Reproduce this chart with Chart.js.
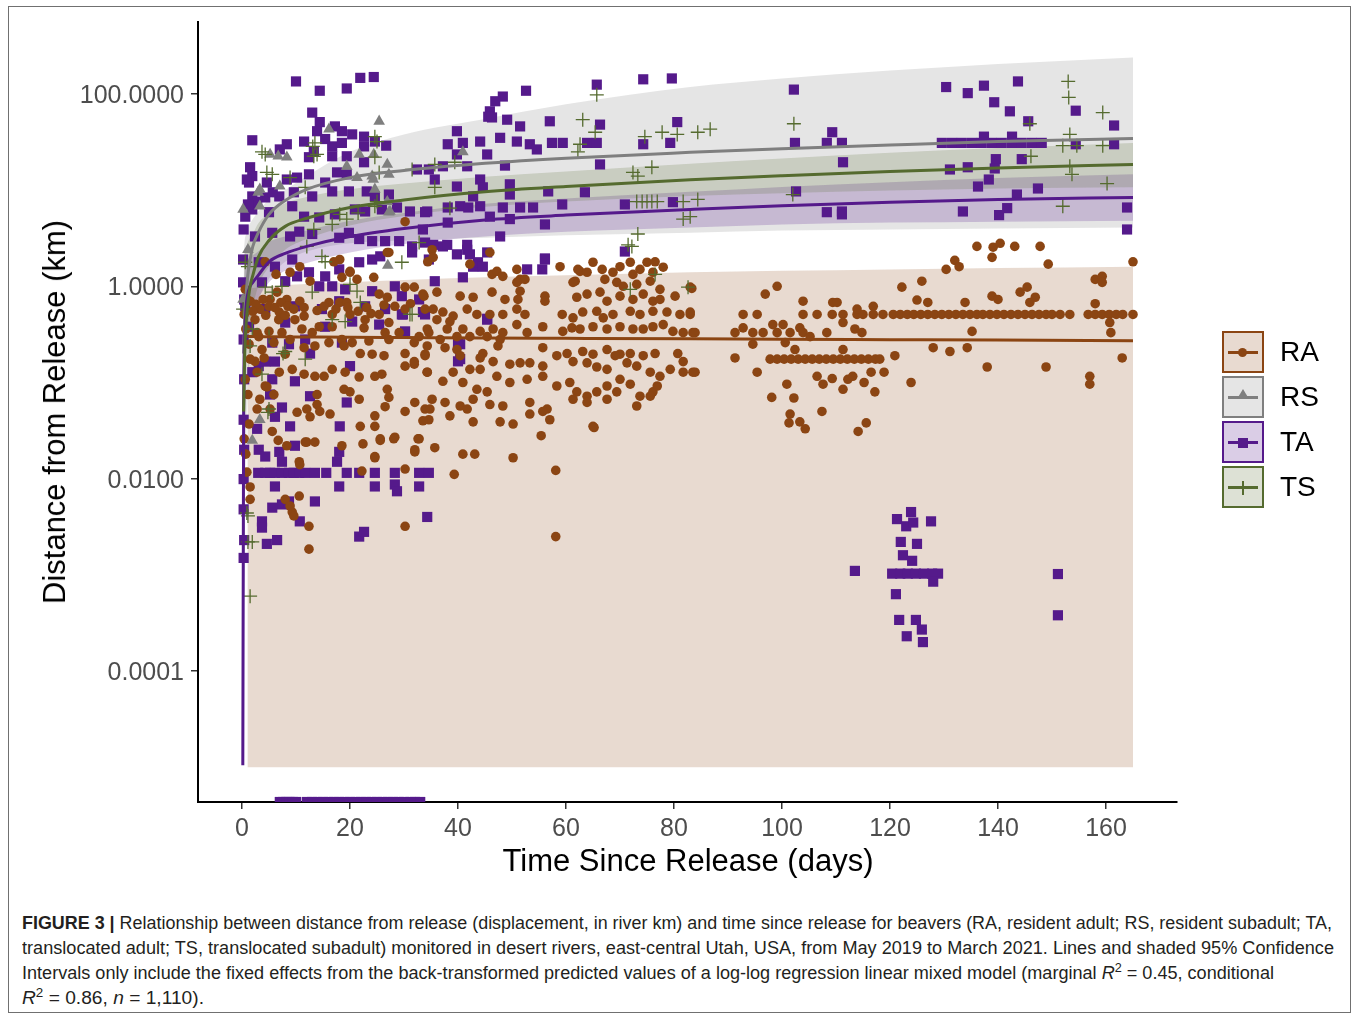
<!DOCTYPE html>
<html lang="en">
<head>
<meta charset="UTF-8">
<title>Distance from release vs time since release</title>
<script src="https://cdn.jsdelivr.net/npm/chart.js@4.4.1/dist/chart.umd.min.js"></script>
<style>
    body { margin: 0; background: #fff; font-family: "Liberation Sans", Arial, sans-serif; }
    #page { position: relative; width: 1357px; height: 1017px; overflow: hidden; }
    #frame { position: absolute; left: 8px; top: 6px; width: 1343px; height: 1007px; border: 1px solid #707070; box-sizing: border-box; }
    #chart { position: absolute; left: 0; top: 0; }
    .axis-title { position: absolute; font-size: 31px; color: #000; white-space: nowrap; transform: translate(-50%, -50%); }
    #ytitle { left: 55px; top: 412px; transform: translate(-50%, -50%) rotate(-90deg); }
    #xtitle { left: 688px; top: 861px; }
    .key { position: absolute; left: 1222px; width: 42px; height: 42px; box-sizing: border-box; border: 2px solid; }
    .key .ln { position: absolute; left: 4px; right: 4px; top: 18px; height: 3px; }
    .key .mk { position: absolute; }
    .key-label { position: absolute; left: 1280px; font-size: 28px; line-height: 42px; color: #000; }
    #caption { position: absolute; left: 22px; top: 911px; font-family: "Liberation Sans", Arial, sans-serif;
               font-size: 17.5px; line-height: 25px; color: #231f20; }
    #caption div { white-space: nowrap; width: max-content; transform-origin: 0 0; }
    #caption sup { font-size: 70%; line-height: 0; }
</style>
</head>
<body>
<div id="page">
    <div id="frame"></div>
    <canvas id="chart" width="1357" height="890"></canvas>
    <div class="axis-title" id="ytitle">Distance from Release (km)</div>
    <div class="axis-title" id="xtitle">Time Since Release (days)</div>

    <div class="key" style="top:331px; border-color:#8B4513; background:rgba(139,69,19,0.2)">
        <div class="ln" style="background:#8B4513"></div>
        <div class="mk" style="left:14px; top:15px; width:9px; height:9px; border-radius:50%; background:#8B4513"></div>
    </div>
    <div class="key-label" style="top:331px">RA</div>
    <div class="key" style="top:376px; border-color:#7f7f7f; background:rgba(127,127,127,0.2)">
        <div class="ln" style="background:#7f7f7f"></div>
        <div class="mk" style="left:13px; top:11px; width:0; height:0; border-left:6px solid transparent; border-right:6px solid transparent; border-bottom:10px solid #7f7f7f"></div>
    </div>
    <div class="key-label" style="top:376px">RS</div>
    <div class="key" style="top:421px; border-color:#551A8B; background:rgba(85,26,139,0.22)">
        <div class="ln" style="background:#551A8B"></div>
        <div class="mk" style="left:14px; top:15px; width:10px; height:10px; background:#551A8B"></div>
    </div>
    <div class="key-label" style="top:421px">TA</div>
    <div class="key" style="top:466px; border-color:#556B2F; background:rgba(85,107,47,0.2)">
        <div class="ln" style="background:#556B2F"></div>
        <div class="mk" style="left:18px; top:13px; width:1.5px; height:14px; background:#556B2F"></div>
    </div>
    <div class="key-label" style="top:466px">TS</div>

    <div id="caption">
        <div data-w="1310"><b>FIGURE 3 |</b> Relationship between distance from release (displacement, in river km) and time since release for beavers (RA, resident adult; RS, resident subadult; TA,</div>
        <div data-w="1312">translocated adult; TS, translocated subadult) monitored in desert rivers, east-central Utah, USA, from May 2019 to March 2021. Lines and shaded 95% Confidence</div>
        <div data-w="1252">Intervals only include the fixed effects from the back-transformed predicted values of a log-log regression linear mixed model (marginal <i>R</i><sup>2</sup> = 0.45, conditional</div>
        <div data-w="182"><i>R</i><sup>2</sup> = 0.86, <i>n</i> = 1,110).</div>
    </div>
</div>

<script>
    // axes
    var xTicks = [0, 20, 40, 60, 80, 100, 120, 140, 160];
    var yTicks = [0.0001, 0.01, 1, 100];
    var xMin = -8.15, xMax = 173.15;
    var zeroKm = 4.35e-6;   // fixes with zero displacement sit on the axis floor
    var yMax = 560;

    // observations [days, km]
    var raPoints = [
        [30.2,4.7],[27.2,2.25],[18.1,1.9],[17.0,1.8],[8.9,1.4],[10.7,1.6],[12.6,1.13],[20,1.43],[21.3,1.18],[24.4,1.24],
        [6.5,0.87],[8.3,0.73],[10.7,0.7],[16.1,0.68],[18.1,0.68],[19.4,0.68],[23.1,0.6],[25.4,0.83],[26.9,0.77],[30.2,0.98],
        [31.9,0.98],[33.7,0.79],[30.2,0.58],[33.9,0.58],[6.9,0.54],[9.8,0.45],[11.5,0.49],[16.7,0.51],[20,0.51],[22.8,0.45],
        [25.4,0.51],[27.2,0.42],[5.0,0.34],[7.4,0.33],[11.1,0.36],[13,0.33],[14.3,0.38],[16.7,0.38],[22.6,0.37],[26.5,0.33],
        [29.1,0.33],[32.8,0.3],[3.1,0.3],[5.9,0.26],[8.9,0.28],[18.5,0.28],[20.4,0.26],[23.5,0.27],[27.2,0.28],[31.9,0.26],[34.6,0.33],
        [11.5,0.23],[13.5,0.24],[16.1,0.26],[18.9,0.24],[21.9,0.2],[24.1,0.197],[26.3,0.19],[30.2,0.2],[31.9,0.165],[33.9,0.197],
        [6.9,0.128],[9.3,0.137],[11.5,0.122],[13.5,0.116],[15.2,0.116],[16.7,0.137],[19.1,0.128],[21.7,0.114],[24.6,0.116],[25.9,0.122],
        [30.2,0.148],[31.9,0.155],[34.3,0.128],[4.3,0.092],[5.9,0.075],[13.9,0.075],[13.9,0.059],[18.9,0.085],[20,0.08],[26.9,0.085],
        [27.2,0.07],[21.7,0.067],[2.8,0.053],[10.2,0.049],[12,0.053],[12.6,0.044],[14.4,0.05],[16.3,0.047],[24.6,0.045],[26.5,0.056],
        [30.2,0.05],[32,0.062],[33.9,0.053],[34.6,0.041],[5.6,0.031],[12,0.024],[13.5,0.024],[18.5,0.022],[21.9,0.035],[24.6,0.035],
        [25.6,0.026],[28.3,0.027],[32.8,0.026],[32,0.02],[24.6,0.017],[10.6,0.015],[22.2,0.012],[30.2,0.0126],[8,0.0061],[10.6,0.0066],
        [9.3,0.0045],[9.6,0.0041],[12.4,0.0032],[30.2,0.0032],[12.4,0.00185],[2.4,0.166],[4.1,0.18],[4.6,0.09],[1.3,0.037],
        [35.2,2.4],[34.4,1.8],[45.9,2.25],[42.2,1.7],[46.3,1.33],[47.2,1.43],[50.9,1.5],[51.5,1.18],[58.9,1.6],[65,1.78],
        [62.6,1.43],[61.7,1.13],[63.9,1.4],[66.7,1.5],[68.7,1.4],[70,1.6],[71.9,1.78],[73.7,1.5],[75,1.78],[76.5,1.8],
        [78,1.58],[76.1,1.4],[72.4,1.33],[67.2,1.18],[69.4,1.1],[70.6,1.0],[73.1,1.05],[75.6,1.13],[77.4,0.93],[83,0.98],
        [80.2,0.79],[33.5,0.83],[36.1,0.87],[40.4,0.79],[42.8,0.77],[46.3,0.87],[48.7,0.73],[51.5,0.89],[51.1,0.73],[56.1,0.79],
        [56.1,0.7],[61.3,1.1],[62,0.77],[63.9,0.83],[66.3,0.87],[67.6,0.7],[70,0.79],[72.4,0.73],[74.3,0.83],[76.1,0.7],[77.4,0.73],
        [35.4,0.58],[37.2,0.54],[39.1,0.49],[41.7,0.58],[43.5,0.51],[45.9,0.51],[48.3,0.51],[50.9,0.58],[52.4,0.51],[59.3,0.51],
        [61.3,0.47],[63.1,0.54],[65.7,0.55],[66.9,0.47],[68.7,0.51],[71.9,0.55],[73.7,0.51],[76.1,0.55],[78.7,0.54],[81.1,0.51],[83,0.51],
        [36.1,0.45],[38.5,0.43],[34.3,0.36],[38,0.36],[40.9,0.36],[44.1,0.34],[46.5,0.36],[48.3,0.33],[50.9,0.4],[52.8,0.33],
        [55.7,0.38],[59.4,0.34],[61.1,0.37],[62.6,0.36],[65,0.38],[67.6,0.36],[70,0.38],[72.4,0.36],[74.3,0.36],[76.1,0.38],
        [78,0.4],[79.8,0.34],[81.7,0.33],[83.5,0.33],[36.7,0.28],[39.8,0.3],[42.2,0.3],[45.4,0.3],[47.8,0.28],[34.3,0.24],
        [37.6,0.23],[39.8,0.22],[44.6,0.2],[47.4,0.24],[55.7,0.23],[58.3,0.19],[60.2,0.2],[63.1,0.21],[65,0.197],[67.6,0.22],
        [70,0.197],[71.9,0.2],[74.3,0.19],[76.5,0.2],[80.7,0.2],[33.9,0.19],[40.4,0.19],[44.1,0.18],[46.5,0.165],[49.6,0.155],
        [51.5,0.16],[53.3,0.16],[55.7,0.148],[61.3,0.165],[63.9,0.16],[65.7,0.145],[67.6,0.137],[69.1,0.19],[71.3,0.16],[73.1,0.148],
        [75.6,0.128],[77.4,0.116],[79.3,0.137],[81.7,0.165],[81.7,0.128],[83.5,0.128],[39.1,0.128],[42.2,0.137],[44.1,0.137],[47.2,0.116],
        [49.6,0.1],[52.8,0.108],[55.7,0.116],[58.3,0.092],[60.7,0.1],[62,0.08],[63.9,0.072],[65.7,0.08],[67.6,0.092],[70,0.108],
        [71.9,0.096],[73.7,0.072],[76.1,0.08],[76.9,0.092],[34.3,0.128],[37.2,0.103],[40.9,0.1],[43.5,0.085],[45.4,0.08],[35.2,0.067],
        [37.6,0.062],[40.4,0.057],[42.8,0.067],[45.9,0.059],[48.3,0.057],[53.3,0.062],[56.5,0.053],[61.3,0.067],[63.9,0.062],[67.6,0.067],
        [69.4,0.08],[73.1,0.057],[75.6,0.072],[34.8,0.053],[38.5,0.045],[41.7,0.053],[42.8,0.039],[47.8,0.039],[50.2,0.037],[53.3,0.047],
        [55.7,0.05],[57,0.041],[65,0.035],[33.5,0.04],
        [2.8,0.33],[1.5,0.175],[2.8,0.128],[3.3,0.067],[5.2,0.053],[6.7,0.025],[8.3,0.022],[10.7,0.014],[1.5,0.0061],[8.9,0.0052],
        [1.5,0.0082],[0.9,0.0117],[39.3,0.0111],[58.1,0.0122],[58.1,0.0025],[65.2,0.034],[55.4,0.028],[50.2,0.0165],[43.1,0.018],[40.9,0.018],
        [35.7,0.021],[32.6,0.026],[28.1,0.026],[25.6,0.025],[22.4,0.023],[11.7,0.024],[32,0.019],[24.6,0.0165],
        [0.6,0.93],[0.9,0.73],[0.4,0.51],[0.7,0.36],[1.3,0.25],[0.6,0.108],[1.1,0.075],[0.4,0.026],[0.7,0.018],
        [4.3,1.8],[6.3,1.33],[5.2,0.73],[3.3,0.58],[2.4,0.45],[3.7,0.22],[8,0.197],
        [35.4,2.0],[62.2,1.5],[26.9,2.25],[20,1.4],[18.5,1.24],[52.4,1.18],[48.3,1.27],[50.9,1.1],
        [1.5,0.7],[2.6,0.65],[3.9,0.73],[5,0.62],[6.1,0.6],[7.2,0.68],[8.5,0.62],[9.6,0.58],[2,0.55],[4.4,0.5],[6.8,0.45],[8,0.5],
        [11.5,0.6],[13.9,0.56],[15.2,0.62],[17.4,0.58],[19.6,0.6],[21.5,0.55],[23.9,0.52],[28.3,0.62],[31.2,0.66],[26.3,0.64],
        [136.1,2.6],[139.1,2.55],[140.4,2.8],[143.1,2.6],[147.8,2.6],[138.9,2.0],[149.3,1.7],[132,1.86],[132.8,1.6],[130.4,1.5],
        [165,1.8],[122.2,0.98],[125.9,1.13],[125,0.72],[127,0.68],[133.9,0.68],[138.9,0.79],[140,0.73],[144.1,0.87],[145.4,0.98],
        [146.9,0.77],[145.9,0.68],[158,1.18],[159.3,1.27],[159.3,1.1],[158,0.66],[96.9,0.83],[99.1,1.0],[103.9,0.7],[109.4,0.68],
        [110.2,0.68],[116.9,0.62],[83.3,0.95],[83,0.54],
        [92.8,0.51],[95.4,0.51],[103.9,0.51],[106.5,0.51],[109.3,0.51],[111.3,0.51],[113.9,0.51],[115,0.51],[116.9,0.51],[118.7,0.51],
        [120.6,0.51],[121.9,0.51],[123.2,0.51],[124.4,0.51],[125.7,0.51],[127,0.51],[128.3,0.51],[129.6,0.51],[130.9,0.51],[132.2,0.51],
        [133.5,0.51],[134.8,0.51],[136.1,0.51],[137.2,0.51],[138.5,0.51],[139.8,0.51],[141.1,0.51],[142.4,0.51],[143.7,0.51],[145,0.51],
        [146.3,0.51],[147.6,0.51],[148.9,0.51],[150,0.51],[151.5,0.51],[153.3,0.51],[156.7,0.51],[158,0.51],[159.3,0.51],[160.6,0.51],
        [161.9,0.51],[163.1,0.51],[165,0.51],
        [83.9,0.33],[91.3,0.33],[92.8,0.37],[94.6,0.33],[96.5,0.33],[98.3,0.4],[99.1,0.33],[100.2,0.4],[101.5,0.33],[103.3,0.37],
        [103.9,0.33],[105.2,0.3],[108.3,0.33],[111.3,0.42],[113.9,0.58],[114.8,0.33],[113.5,0.36],
        [91.3,0.18],[94.6,0.25],[100.6,0.26],[102.4,0.22],[111.3,0.22],[83.9,0.128],[95.4,0.128],[120.9,0.19],[128,0.23],[131.1,0.21],
        [134.3,0.23],[135.2,0.34],[138,0.145],[148.9,0.145],[157,0.116],[157,0.096],[160.7,0.42],[160.9,0.33],[163,0.18],
        [97.8,0.175],[99.1,0.175],[100.4,0.175],[101.7,0.175],[103,0.175],[104.3,0.175],[105.6,0.175],[106.9,0.175],[108.2,0.175],
        [109.5,0.175],[110.8,0.175],[112.1,0.175],[113.4,0.175],[114.7,0.175],[116,0.175],[117.3,0.175],[118.1,0.175],
        [100.9,0.096],[98.1,0.07],[102.2,0.069],[101.5,0.047],[101.3,0.038],[103.3,0.039],[104.3,0.033],[107.4,0.05],[106.5,0.116],
        [107.6,0.096],[109.3,0.11],[111.3,0.085],[112.2,0.108],[113.1,0.116],[115.2,0.1],[116.5,0.128],[117.2,0.08],[118.9,0.128],
        [123.9,0.1],[114.1,0.031],[115.6,0.038]
    ];

    var rsPoints = [
        [25.4,52],[8.3,22],[16.1,43],[21.7,23.5],[24.4,23.5],[26.9,18.5],[19.4,17.7],[21.3,13.5],[24.1,14],[27.2,14.6],
        [7,11],[3.3,10.2],[24.3,12.9],[26.9,7.6],[27.4,6.0],[24.6,10.2],[6.7,22.5],[3,9.5],[40.9,25],[27,1.65],
        [3.3,6.8],[27.2,5.9],[3.3,0.041],[1.9,0.025],[0.2,6.3],[1.1,2.4],[0.2,0.73],[5.2,23.5]
    ];

    var taPoints = [
        [10,135],[14.4,108],[19.4,114],[21.9,147],[24.4,150],[13,64],[14.4,51],[17.2,46],[18.5,41],[20.4,38],[22.6,36],[13.9,41],
        [1.9,33],[7,26.5],[8.3,30],[11.5,32],[13.3,25],[15.4,34],[16.7,28.5],[18.5,31],[22.6,28.5],[26.7,29],[24.6,32],
        [12.4,22],[16.7,22.5],[19.4,22.5],[22.6,19.5],[1.5,17.3],[1.9,14],[1.3,12],[4.6,12],[10.2,13.5],[12.4,14.6],[15.4,12],
        [17.6,15.3],[19.4,14.6],[16.7,9.7],[19.8,9.7],[23.1,9.7],[24.6,8.6],[27.2,9.0],[1.9,8.6],[4.3,8.4],[6.9,8.6],[9.6,9.5],
        [13,8.6],[34.6,16.4],[32.4,16.4],
        [52.6,108],[65.7,125],[74.3,142],[79.6,145],[48.3,94],[46.9,84],[45.9,66],[45.6,58],[46.3,57],[49.1,54],[51.5,46],[57,52],
        [66.3,48],[80.6,51],[39.8,41],[38.1,30],[40.9,31],[44.1,32],[47.8,35],[50.9,32],[53.3,30],[54.6,26.5],[57.4,31],[59.4,31],
        [63.9,31],[65.7,31],[74.3,30],[79.3,31],[45.4,23.5],[39.8,23.5],[48.7,18],[66.3,18.5],[37.2,17.7],[41.7,17.7],[44.1,12.9],
        [44.6,10.7],[35.7,12.9],[49.6,11.5],[56.7,9.7],[63.5,9.5],[49.6,9.0],[39.8,10.9],[42.8,8.6],[59.3,7.1],[70.9,7.1],[79.8,7.5],
        [34.3,6.0],[38.1,6.6],[40.4,6.8],[41.9,6.6],[44.1,6.8],[48.3,6.6],[51.5,6.6],[53.9,6.6],[49.6,5.0],[45.9,5.3],[38.1,4.6],
        [56.1,4.4],[47.8,3.3],[70.9,2.3],[56.1,1.9],[52.8,1.5],[40.9,1.24],[35.7,1.13],[33.5,3.9],[37.2,2.6],[41.7,2.4],[42.8,1.6],
        [35.4,2.7],[38,2.7],[39.8,2.15],[41.7,2.7],[42.2,2.15],[43.7,1.78],[44.6,1.6],[45.4,2.25],[55.6,1.5],[56.1,1.95],
        [45.4,0.46],[40.4,0.25],[40,0.166],
        [102.2,111],[130.4,118],[134.4,102],[137.4,122],[143.7,135],[139.3,82],[142.2,66],[145.6,52],[154.4,67],[161.5,47],
        [102.4,31],[109.3,40],[108.3,31],[111.1,31],[111.3,19.5],
        [129.6,31],[131.5,31],[133.3,31],[135.2,31],[137,31],[138.9,31],[140.7,31],[142.6,31],[144.4,31],[146.3,31],[148.1,31],
        [137.4,36],[142.6,36],[131.1,16.4],[134.4,17.3],[139.6,21],[139.4,16.8],[138.3,12.9],[136.3,10.9],[144.4,21],[147.4,10.4],
        [143.5,9.0],[154.4,30],[161.5,30],[102.6,9.7],[108.3,5.9],[111.1,6.0],[111.1,5.6],[133.5,6.0],[141.7,6.5],[140.2,5.5],
        [163.9,6.6],[163.9,3.9],
        [123.9,0.0045],[121.3,0.0038],[123,0.0032],[124.3,0.0035],[127.6,0.0036],[122,0.0022],[125,0.0021],[122.4,0.0016],[124.1,0.0014],
        [120.4,0.00103],[121.9,0.00103],[123.3,0.00103],[124.8,0.00103],[126.3,0.00103],[127.8,0.00103],[128.9,0.00103],
        [128,0.00085],[113.5,0.0011],[121.1,0.00063],[121.7,0.00034],[124.8,0.00034],[125.9,0.00027],[123.1,0.00023],[126.1,0.0002],
        [151.1,0.00102],[151.1,0.00038],
        [8.7,0.25],[12.6,0.2],[20,0.148],[9.8,0.103],[5.6,0.108],[3.1,0.148],[4.3,0.165],[6.1,0.165],[1.9,0.128],[5.2,0.075],
        [12.6,0.072],[19.4,0.062],[7.4,0.055],[6.1,0.044],[8.9,0.035],[18.1,0.035],[2.8,0.033],[9.8,0.022],[18,0.019],[17.6,0.015],
        [3.1,0.02],[4.3,0.017],[6.9,0.019],[7.4,0.015],
        [3.0,0.0115],[4.3,0.0115],[5.2,0.0115],[6.1,0.0115],[7.4,0.0115],[8.7,0.0115],[9.6,0.0115],[10.6,0.0115],[11.7,0.0115],
        [13.5,0.0115],[15.6,0.0115],[19.4,0.0115],[21.7,0.0115],[24.6,0.0115],[28.3,0.0115],[32.8,0.0115],[34.6,0.0115],
        [6.1,0.0083],[18,0.0083],[24.6,0.0083],[28.3,0.0087],[28.7,0.0074],[32.8,0.0083],[13.5,0.0058],[7.4,0.0054],[8.7,0.0058],
        [5.6,0.005],[10.7,0.0036],[3.7,0.0036],[3.7,0.0031],[34.3,0.004],[21.7,0.0025],[22.6,0.0028],[4.6,0.0021],[6.5,0.0023],
        [40,0.26],[40.4,0.175],[45.4,0.45],[29.8,0.51],[33.5,0.54],
        [0.6,5.3],[1.9,6.3],[5,5.9],[9.3,6.8],[11.5,5.3],[14.3,5.2],[17.2,5.6],[20.9,6.3],[22.8,6.0],[25.9,6.3],[28.7,6.6],[31.1,6.0],
        [33.9,5.9],[2.4,3.3],[5.6,3.6],[8.9,3.3],[10.6,3.7],[13,3.5],[18,3.2],[19.8,3.6],[21.7,3.1],[24.1,2.95],[26.5,2.95],[29.1,2.95],
        [31.5,2.6],[33.9,2.85],[0.2,1.9],[3.1,1.78],[6.1,1.6],[9.3,1.9],[10.2,1.27],[12.4,1.4],[15.4,1.27],[18,1.5],[21.7,1.78],
        [24.1,1.9],[25.6,2.05],[31.5,2.25],[34.6,1.9],[0.2,1.1],[3.7,1.1],[8,1.13],[14.3,1.0],[16.7,1.0],[19.1,0.93],[24.1,0.89],
        [28.3,1.0],[29.6,0.79],[32.8,0.73],[0.6,0.62],[4.3,0.58],[9.8,0.62],[14.8,0.58],[18,0.7],[22.8,0.62],[26.5,0.58],[29.6,0.51],
        [33.9,0.51],[1.3,0.38],[8,0.42],[15.4,0.38],[20.4,0.43],[25.4,0.4],[30.2,0.34],[5.6,0.26],[11.7,0.28],[18.5,0.26],
        [2.8,7.6],[1.1,7.1],[5.7,9.5],[8.3,12.9],[0.9,12.9],
        [0.3,3.9],[0.4,0.73],[0.3,0.28],[0.4,0.108],[0.3,0.041],[0.4,0.02],[0.3,0.0099],[0.3,0.0048],[0.4,0.0023],[0.3,0.0015],
        [7,zeroKm],[7.6,zeroKm],[8.2,zeroKm],[8.8,zeroKm],[9.4,zeroKm],[10,zeroKm],[12,zeroKm],[13,zeroKm],[14,zeroKm],[15,zeroKm],
        [16,zeroKm],[17,zeroKm],[18,zeroKm],[19,zeroKm],[20,zeroKm],[21,zeroKm],[22,zeroKm],[23,zeroKm],[24,zeroKm],[25,zeroKm],
        [26,zeroKm],[27,zeroKm],[28,zeroKm],[29,zeroKm],[30,zeroKm],[31.2,zeroKm],[32,zeroKm],[33,zeroKm]
    ];

    var tsPoints = [
        [3.7,25],[4.6,15.3],[5.6,14.6],[8.9,13.5],[11.7,10.7],[13.5,31],[13.3,22.5],[24.6,36],[25.4,15.3],[31.5,16.4],
        [4.3,23.5],[13.9,23.5],[13.1,28.5],[25,32],[24.6,22],[35.7,18.5],[39.4,19.5],[38.5,6.5],[35.7,10.7],
        [63.1,54],[65.4,40],[62.6,30],[62.2,25],[65.7,98],[74.6,36],[77.8,40],[80.6,38],[75.9,17.3],[72.4,15.3],[73.3,14],
        [73.1,7.6],[74.1,7.6],[75,7.6],[75.9,7.6],[76.9,7.6],[81.7,7.6],[81.7,5.0],[73.3,3.5],[72.2,2.6],[76.5,1.33],
        [18.1,5.6],[19.4,5.0],[21.5,5.8],[25,7.6],[84.4,40],[86.7,43],[102.2,49],[102,9.0],
        [153,135],[153.1,92],[159.4,64],[153.3,38],[152,29],[159.4,29],[145.9,49],[146.1,22.5],[153.3,17.7],[153.7,14.6],
        [160.2,11.7],[152,6.8],[154.6,29],[84.4,8.0],[83,5.3],
        [1.1,1.6],[1.5,0.24],[8,0.21],[11.7,0.175],[3.7,0.122],[5,0.053],[1.9,0.0022],[0.9,0.0044],[0.6,1.78],[4.3,0.98],
        [5.6,0.87],[7.4,1.0],[13,0.87],[14.8,2.05],[15.4,1.8],[20,1.05],[21.3,0.89],[32.8,2.85],[29.6,1.78],[31.5,0.51],
        [16.7,0.45],[19.1,0.43],[12,2.6],[13.3,3.9],[16.7,4.4],[24.6,6.8],[0.2,0.58],[1.9,0.36],[5,0.3],[71.5,2.7],
        [71.9,0.93],[82.6,0.98],[4.8,0.049],[7.6,0.2],[31.1,0.51],[21.9,0.68],[1.1,0.0041],[1.1,0.0022],[1.5,0.0006]
    ];

    // fitted values and 95% CI
    var fitDays = [0.15, 0.3, 0.5, 0.75, 1, 1.5, 2, 3, 5, 8, 12, 20, 30, 45, 60, 83, 100, 120, 140, 165];
    var raFit = [null, null, null, null, 0.30, 0.30, 0.30, 0.30, 0.299, 0.298, 0.297, 0.295, 0.293, 0.29, 0.288, 0.285, 0.282, 0.279, 0.276, 0.272];
    var raLo  = [null, null, null, null, 1e-5, 1e-5, 1e-5, 1e-5, 1e-5, 1e-5, 1e-5, 1e-5, 1e-5, 1e-5, 1e-5, 1e-5, 1e-5, 1e-5, 1e-5, 1e-5];
    var raHi  = [null, null, null, null, 0.93, 0.95, 0.96, 0.98, 1.0, 1.03, 1.06, 1.1, 1.16, 1.24, 1.3, 1.4, 1.45, 1.5, 1.55, 1.6];
    var rsFit = [null, 0.2, 0.5, 0.8, 1.2, 1.9, 2.6, 3.6, 5.6, 7.8, 10.2, 13.5, 16, 19, 21.5, 24.7, 27, 29.5, 32, 34.5];
    var rsLo  = [null, 1e-5, 0.003, 0.02, 0.07, 0.2, 0.4, 0.7, 1.2, 1.8, 2.3, 2.8, 3.0, 3.2, 3.4, 3.6, 3.8, 3.9, 4.0, 4.1];
    var rsHi  = [null, 2, 3, 3.5, 4, 4.5, 5, 6, 8, 10, 14, 25, 38, 55, 78, 118, 145, 175, 205, 240];
    var taFit = [1.05e-5, 0.05, 0.3, 0.6, 0.8, 1.0, 1.1, 1.3, 1.8, 2.2, 2.6, 3.3, 4.0, 4.9, 5.5, 6.3, 6.9, 7.5, 8.0, 8.4];
    var taLo  = [null, 1e-5, 0.02, 0.2, 0.35, 0.5, 0.6, 0.75, 1.1, 1.45, 1.75, 2.25, 2.75, 3.3, 3.7, 4.1, 4.4, 4.6, 4.7, 4.8];
    var taHi  = [null, 0.3, 1.5, 1.8, 1.9, 2.0, 2.1, 2.3, 2.9, 3.3, 3.8, 4.8, 5.8, 7.2, 8.2, 9.6, 10.8, 12.1, 13.4, 14.6];
    var tsFit = [null, 0.05, 0.2, 0.4, 0.6, 1.0, 1.3, 2.0, 3.0, 4.2, 5.1, 6.6, 7.9, 9.6, 10.9, 12.8, 14.1, 15.6, 17.0, 18.5];
    var tsLo  = [null, 1e-5, 0.01, 0.08, 0.2, 0.4, 0.6, 1.0, 1.6, 2.4, 3.1, 4.3, 5.4, 6.7, 7.6, 8.7, 9.3, 9.9, 10.4, 10.7];
    var tsHi  = [null, 0.5, 2, 2.5, 2.8, 3.2, 3.5, 4.5, 5.7, 7.3, 8.5, 10.2, 11.7, 13.8, 15.6, 18.8, 21.3, 24.5, 27.5, 31];

    var RA_COL = '#8B4513', RS_COL = '#7f7f7f', TA_COL = '#551A8B', TS_COL = '#556B2F';

    function toXY(pts) {
        return pts.map(function (p) { return { x: p[0], y: p[1] }; });
    }
    function curve(vals) {
        return fitDays.map(function (d, i) { return { x: d, y: vals[i] }; });
    }
    function bandEdge(vals, order) {
        return { type: 'line', data: curve(vals), borderWidth: 0, borderColor: 'rgba(0,0,0,0)', pointRadius: 0,
                 fill: false, cubicInterpolationMode: 'monotone', order: order };
    }
    function bandTop(vals, target, color, order) {
        return { type: 'line', data: curve(vals), borderWidth: 0, borderColor: 'rgba(0,0,0,0)', pointRadius: 0,
                 fill: { target: target }, backgroundColor: color, cubicInterpolationMode: 'monotone', order: order };
    }
    function fitLine(vals, color, order) {
        return { type: 'line', data: curve(vals), borderColor: color, borderWidth: 3, pointRadius: 0,
                 fill: false, cubicInterpolationMode: 'monotone', order: order };
    }

    var datasets = [
        bandEdge(rsLo, 39), bandTop(rsHi, 0, 'rgba(127,127,127,0.2)', 39),
        bandEdge(taLo, 38), bandTop(taHi, 2, 'rgba(85,26,139,0.22)', 38),
        bandEdge(tsLo, 37), bandTop(tsHi, 4, 'rgba(85,107,47,0.2)', 37),
        bandEdge(raLo, 40), bandTop(raHi, 6, 'rgba(139,69,19,0.2)', 40),
        { label: 'TA', data: toXY(taPoints), pointStyle: 'rect', pointRadius: 7.2, pointBackgroundColor: TA_COL,
          pointBorderWidth: 0, order: 24, clip: 0 },
        { label: 'RA', data: toXY(raPoints), pointStyle: 'circle', pointRadius: 4.8, pointBackgroundColor: RA_COL,
          pointBorderWidth: 0, order: 23 },
        { label: 'RS', data: toXY(rsPoints), pointStyle: 'triangle', pointRadius: 6.7, pointBackgroundColor: RS_COL,
          pointBorderWidth: 0, order: 22 },
        { label: 'TS', data: toXY(tsPoints), pointStyle: 'cross', pointRadius: 7, pointBorderColor: TS_COL,
          pointBorderWidth: 1.3, order: 21 },
        fitLine(raFit, RA_COL, 4), fitLine(rsFit, RS_COL, 3), fitLine(taFit, TA_COL, 2), fitLine(tsFit, TS_COL, 1)
    ];

    var tickFont = { family: "'Liberation Sans', Arial, sans-serif", size: 25 };

    var chart = new Chart(document.getElementById('chart').getContext('2d'), {
        type: 'scatter',
        data: { datasets: datasets },
        options: {
            responsive: false,
            animation: false,
            devicePixelRatio: 1,
            events: [],
            layout: { padding: { top: 22, right: 180, left: 0, bottom: 0 } },
            plugins: { legend: { display: false }, tooltip: { enabled: false } },
            scales: {
                x: {
                    type: 'linear', min: xMin, max: xMax,
                    afterBuildTicks: function (s) { s.ticks = xTicks.map(function (v) { return { value: v }; }); },
                    afterFit: function (s) { s.height = 88; },
                    grid: { drawOnChartArea: false, drawTicks: true, tickLength: 7, color: '#333', lineWidth: 1.5 },
                    border: { display: true, color: '#000', width: 2 },
                    ticks: { color: '#4d4d4d', font: tickFont, padding: 5, maxRotation: 0, autoSkip: false }
                },
                y: {
                    type: 'logarithmic', min: zeroKm, max: yMax,
                    afterBuildTicks: function (s) { s.ticks = yTicks.map(function (v) { return { value: v }; }); },
                    afterFit: function (s) { s.width = 198; },
                    grid: { drawOnChartArea: false, drawTicks: true, tickLength: 7, color: '#333', lineWidth: 1.5 },
                    border: { display: true, color: '#000', width: 2 },
                    ticks: { color: '#4d4d4d', font: tickFont, padding: 7, autoSkip: false, labelOffset: 2,
                             callback: function (v) { return Number(v).toFixed(4); } }
                }
            }
        }
    });

    // stretch each caption line to the width it takes in the figure
    document.querySelectorAll('#caption div').forEach(function (line) {
        var target = Number(line.getAttribute('data-w'));
        var w = line.getBoundingClientRect().width;
        if (w > 0) line.style.transform = 'scaleX(' + (target / w) + ')';
    });
</script>
</body>
</html>
